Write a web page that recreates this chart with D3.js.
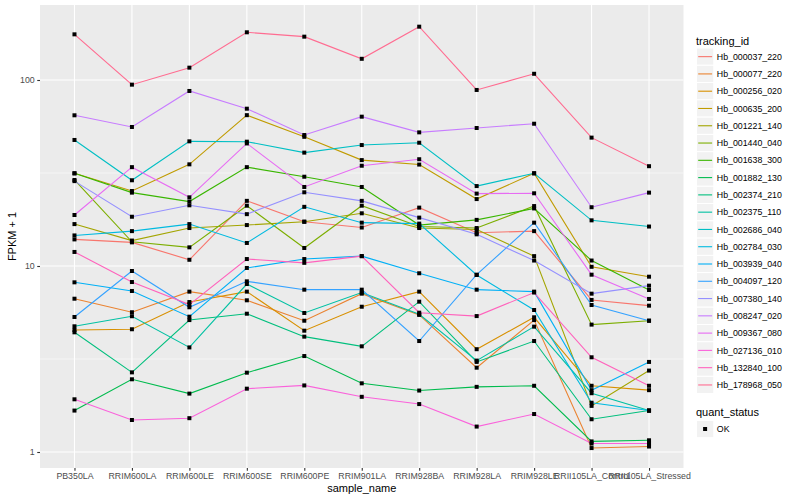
<!DOCTYPE html>
<html><head><meta charset="utf-8">
<script src="https://cdn.jsdelivr.net/npm/d3@7/dist/d3.min.js"></script>
<style>body{margin:0;background:#fff;} text{font-family:"Liberation Sans",Arial,Helvetica,sans-serif;}</style>
</head><body>
<svg id="c" width="800" height="500"></svg>
<script>
const categories = ["PB350LA","RRIM600LA","RRIM600LE","RRIM600SE","RRIM600PE","RRIM901LA","RRIM928BA","RRIM928LA","RRIM928LE","RRII105LA_Control","RRII105LA_Stressed"];
const trackingIds = ["Hb_000037_220","Hb_000077_220","Hb_000256_020","Hb_000635_200","Hb_001221_140","Hb_001440_040","Hb_001638_300","Hb_001882_130","Hb_002374_210","Hb_002375_110","Hb_002686_040","Hb_002784_030","Hb_003939_040","Hb_004097_120","Hb_007380_140","Hb_008247_020","Hb_009367_080","Hb_027136_010","Hb_132840_100","Hb_178968_050"];
const colors = ["#F8766D","#EA8331","#D89000","#C09B00","#A3A500","#7CAE00","#39B600","#00BB4E","#00BF7D","#00C1A3","#00BFC4","#00BAE0","#00B0F6","#35A2FF","#9590FF","#C77CFF","#E76BF3","#FA62DB","#FF62BC","#FF6C91"];
// FPKM + 1 values, one row per tracking_id, one column per sample
const v000037 = [13.9,13.4,10.8,22.4,17.3,16.1,20.6,15.1,15.4,6.57,6.12];
const v000077 = [6.67,5.64,7.28,6.54,5.08,7.1,5.46,2.84,5.12,1.05,1.07];
const v000256 = [4.53,4.57,6.4,7.28,4.49,6.04,7.28,3.57,5.3,2.27,2.15];
const v000635 = [31.5,25.3,35.2,64.7,49.5,37.1,35.1,22.9,31.5,9.9,8.76];
const v001221 = [16.8,13.7,16.0,16.6,17.3,19.2,16.0,15.7,11.3,1.77,2.74];
const v001440 = [29.0,13.5,12.6,21.1,12.5,21.1,16.3,16.0,21.0,4.84,5.08];
const v001638 = [31.5,24.8,22.2,34.0,30.2,26.6,16.6,17.7,20.4,10.7,7.43];
const v001882 = [1.67,2.46,2.06,2.67,3.28,2.34,2.14,2.24,2.27,1.14,1.156];
const v002374 = [4.40,2.68,5.12,5.54,4.17,3.70,6.43,3.05,3.95,1.50,1.67];
const v002375 = [4.74,5.37,3.65,8.0,5.59,7.2,5.5,3.1,4.72,2.07,1.67];
const v002686 = [47.6,28.9,46.8,46.6,40.7,44.7,46.0,26.9,31.5,17.6,16.3];
const v002784 = [14.6,15.4,16.8,13.3,20.8,17.1,16.9,8.95,5.8,1.84,1.67];
const v003939 = [8.17,7.34,5.34,9.76,10.9,11.3,9.14,7.46,7.28,2.15,3.05];
const v004097 = [5.32,9.4,6.0,8.27,7.46,7.46,3.95,8.98,17.1,6.17,5.08];
const v007380 = [28.6,18.4,21.2,19.0,24.9,22.4,18.2,14.8,10.7,7.1,7.84];
const v008247 = [64.6,55.9,87.3,70.1,50.6,63.5,52.3,55.2,58.2,20.7,24.8];
const v009367 = [18.8,34.0,23.4,45.6,26.6,34.6,37.5,24.5,24.6,8.98,6.65];
const v027136 = [1.92,1.486,1.52,2.19,2.28,1.98,1.81,1.37,1.60,1.11,1.11];
const v132840 = [11.9,8.2,6.2,10.9,10.4,11.3,5.61,5.38,7.2,3.23,2.27];
const v178968 = [176,94.4,116.5,180.5,171,130,193.5,88.4,108,49,34.4];
const values = [v000037,v000077,v000256,v000635,v001221,v001440,v001638,v001882,v002374,v002375,v002686,v002784,v003939,v004097,v007380,v008247,v009367,v027136,v132840,v178968];
const yTicks = [1,10,100];
const yMinor = [Math.sqrt(10), Math.sqrt(1000)];

const svg = d3.select("#c");
const P = {l:40, r:683.5, t:5, b:468};
const x = d3.scalePoint().domain(categories).range([P.l,P.r]).padding(0.6);
const y = d3.scaleLog().domain([1,100]).range([452,80]);

svg.append("rect").attr("x",P.l).attr("y",P.t).attr("width",P.r-P.l).attr("height",P.b-P.t).attr("fill","#EBEBEB");
const g = svg.append("g");
g.selectAll(".ymin").data(yMinor).join("line").attr("x1",P.l).attr("x2",P.r).attr("y1",d=>y(d)).attr("y2",d=>y(d)).attr("stroke","#fff").attr("stroke-width",0.55);
g.selectAll(".ymaj").data(yTicks).join("line").attr("x1",P.l).attr("x2",P.r).attr("y1",d=>y(d)).attr("y2",d=>y(d)).attr("stroke","#fff").attr("stroke-width",1.1);
g.selectAll(".xmaj").data(categories).join("line").attr("y1",P.t).attr("y2",P.b).attr("x1",d=>x(d)).attr("x2",d=>x(d)).attr("stroke","#fff").attr("stroke-width",1.1);

const line = d3.line().x((d,i)=>x(categories[i])).y(d=>y(d));
values.forEach((vals,k)=>{
  svg.append("path").datum(vals).attr("d",line).attr("fill","none").attr("stroke",colors[k]).attr("stroke-width",1.1);
});
values.forEach((vals)=>{
  svg.append("g").selectAll("rect").data(vals).join("rect")
    .attr("x",(d,i)=>x(categories[i])-2).attr("y",d=>y(d)-2).attr("width",4).attr("height",4).attr("fill","#000");
});

// axes
const xa = svg.append("g").attr("transform",`translate(0,${P.b})`)
  .call(d3.axisBottom(x).tickSize(2.75).tickSizeOuter(0).tickPadding(2.5));
xa.select(".domain").remove();
xa.selectAll("line").attr("stroke","#333").attr("stroke-width",1.1);
xa.selectAll("text").attr("fill","#4D4D4D").attr("font-size","8.8px");
const ya = svg.append("g").attr("transform",`translate(${P.l},0)`)
  .call(d3.axisLeft(y).tickValues(yTicks).tickFormat(d3.format("d")).tickSize(2.75).tickSizeOuter(0).tickPadding(2.5));
ya.select(".domain").remove();
ya.selectAll("line").attr("stroke","#333").attr("stroke-width",1.1);
ya.selectAll("text").attr("fill","#4D4D4D").attr("font-size","8.8px");

svg.append("text").attr("x",(P.l+P.r)/2).attr("y",492).attr("text-anchor","middle").attr("font-size","11px").attr("fill","#000").text("sample_name");
svg.append("text").attr("transform",`translate(16,${(P.t+P.b)/2}) rotate(-90)`).attr("text-anchor","middle").attr("font-size","11px").attr("fill","#000").text("FPKM + 1");

// legend
const lg = svg.append("g");
lg.append("text").attr("x",696).attr("y",44.5).attr("font-size","11px").attr("fill","#000").text("tracking_id");
const kh = 17.28, k0 = 48;
trackingIds.forEach((id,i)=>{
  const yy = k0 + i*kh;
  lg.append("rect").attr("x",696.5).attr("y",yy).attr("width",17.28).attr("height",kh).attr("fill","#F2F2F2").attr("stroke","#fff").attr("stroke-width",1);
  lg.append("line").attr("x1",698.2).attr("x2",712.1).attr("y1",yy+kh/2).attr("y2",yy+kh/2).attr("stroke",colors[i]).attr("stroke-width",1.1);
  lg.append("text").attr("x",716.8).attr("y",yy+kh/2+3.1).attr("font-size","8.8px").attr("fill","#000").text(id);
});
lg.append("text").attr("x",696).attr("y",416.3).attr("font-size","11px").attr("fill","#000").text("quant_status");
lg.append("rect").attr("x",696.5).attr("y",420.4).attr("width",17.28).attr("height",17.28).attr("fill","#F2F2F2").attr("stroke","#fff");
lg.append("rect").attr("x",703.1).attr("y",427).attr("width",4).attr("height",4).attr("fill","#000");
lg.append("text").attr("x",716.8).attr("y",432.1).attr("font-size","8.8px").attr("fill","#000").text("OK");
</script>
</body></html>
